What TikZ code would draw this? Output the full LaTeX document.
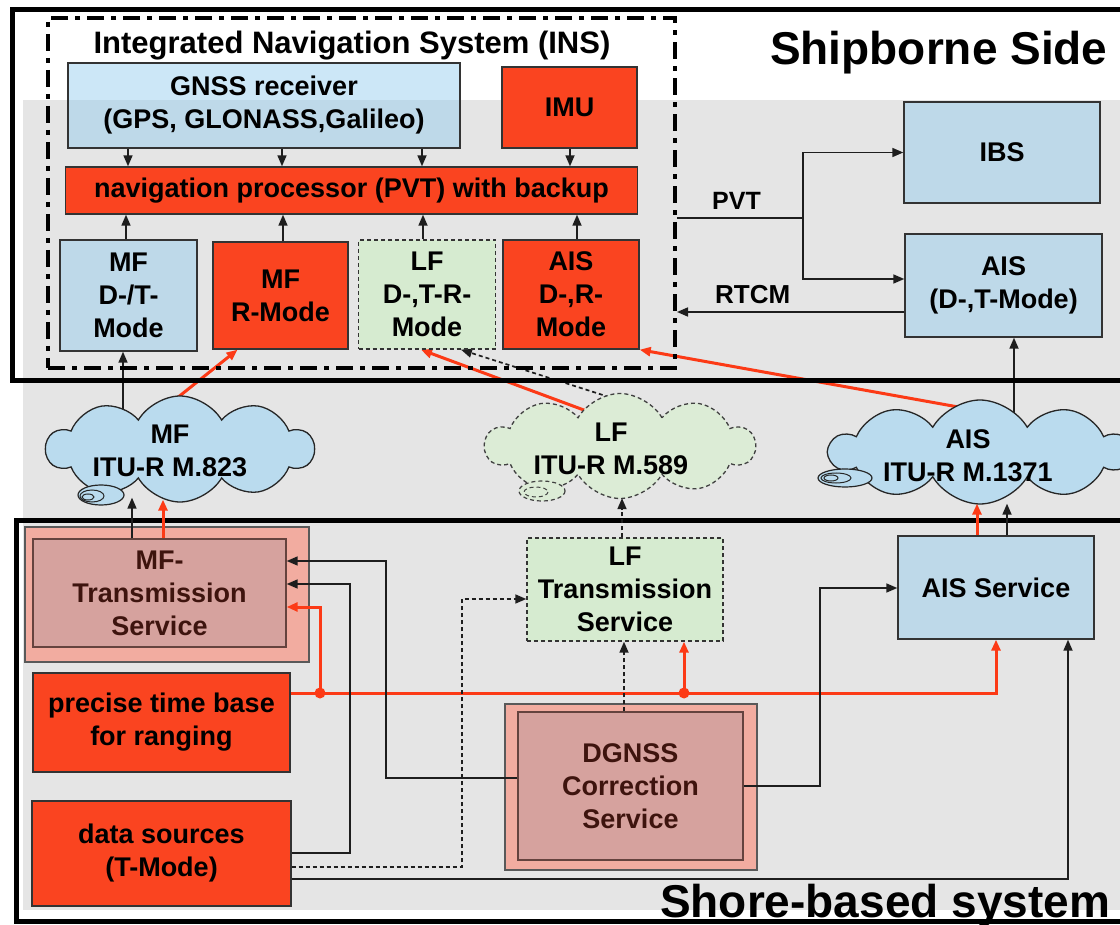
\documentclass[tikz,border=0pt]{standalone}
\usepackage{fontspec}
\setmainfont{Liberation Sans}
\usetikzlibrary{arrows.meta,shapes.symbols,calc}
\pgfdeclarelayer{back}
\pgfdeclarelayer{links}
\pgfsetlayers{back,links,main}
\definecolor{bandgray}{RGB}{229,229,229}
\definecolor{boxblue}{RGB}{143,203,239}
\definecolor{boxgreen}{RGB}{205,240,195}
\definecolor{cloudblue}{RGB}{186,219,238}
\definecolor{cloudgreen}{RGB}{220,236,214}
\definecolor{boxred}{RGB}{250,68,32}
\definecolor{pinkout}{RGB}{242,172,160}
\definecolor{pinkin}{RGB}{214,162,158}
\definecolor{darkbrown}{RGB}{62,20,14}
\definecolor{linegray}{RGB}{30,30,30}
\definecolor{redline}{RGB}{252,58,22}
\begin{document}
\begin{tikzpicture}[x=1pt,y=-1pt,
  lbl/.style={font=\bfseries\fontsize{27}{33}\selectfont, align=center},
  sz/.style 2 args={minimum width=#1pt, minimum height=#2pt},
  basebox/.style={lbl, draw=black!80, line width=1.4pt, inner sep=0pt, anchor=center},
  bluebox/.style={basebox, fill=boxblue, fill opacity=0.45, text opacity=1},
  redbox/.style={basebox, fill=boxred},
  greenbox/.style={basebox, fill=boxgreen, fill opacity=0.6, text opacity=1, dash pattern=on 4pt off 3pt},
  pinkouter/.style={draw=black!65, line width=1.4pt, fill=pinkout, inner sep=0pt},
  pinkinner/.style={basebox, draw=darkbrown!80, fill=pinkin, text=darkbrown},
  cloudsty/.style={cloud, cloud puffs=10, cloud puff arc=120, cloud ignores aspect, draw=black!85, line width=1.3pt, inner sep=0pt},
  conn/.style={draw=linegray, line width=1.7pt},
  rconn/.style={draw=redline, line width=3pt},
  tip/.style={-{Triangle[length=11pt,width=9pt]}},
  dsh/.style={dash pattern=on 4pt off 3pt},
  bigtxt/.style={font=\bfseries\fontsize{46}{50}\selectfont, inner sep=0pt, anchor=base west},
  thickframe/.style={draw=black, line width=5pt}
]
\useasboundingbox (0,0) rectangle (1120,925);
\begin{pgfonlayer}{back}
  \fill[white] (0,0) rectangle (1120,925);
  \fill[bandgray] (23,100) rectangle (1120,910);
\end{pgfonlayer}

% frames
\draw[thickframe] (1135,10) -- (12,10) -- (12,381) -- (1135,381);
\draw[thickframe] (1135,520) -- (16,520) -- (16,921) -- (1135,921);

% INS box
\node[draw=black, line width=4pt, dash pattern=on 17pt off 7pt on 5pt off 7pt, sz={627}{350}, inner sep=0pt] (ins) at (361.5,193) {};
\node[font=\bfseries\fontsize{31}{36}\selectfont, anchor=base, inner sep=0pt] (institle) at (352,54) {Integrated Navigation System (INS)};
\node[bigtxt] (shiptxt) at (770,65) {Shipborne Side};

% top nodes
\node[bluebox, sz={392}{85}] (gnss) at (264,105.5) {GNSS receiver\\(GPS, GLONASS,Galileo)};
\node[redbox, sz={135}{81}] (imu) at (569.5,107.5) {IMU};
\node[redbox, sz={572}{47}] (nav) at (351.5,190.5) {navigation processor (PVT) with backup};
\node[bluebox, sz={137}{111}] (mfdt) at (128.5,295.5) {MF\\D-/T-\\Mode};
\node[redbox, sz={135}{107}] (mfr) at (280.5,295.5) {MF\\R-Mode};
\node[greenbox, sz={137}{109}] (lfb) at (427,294.5) {LF\\D-,T-R-\\Mode};
\node[redbox, sz={136}{109}] (aisr) at (571,294.5) {AIS\\D-,R-\\Mode};
\node[bluebox, sz={196}{101}] (ibs) at (1002,152.5) {IBS};
\node[bluebox, sz={197}{103}] (aisship) at (1003.5,285.5) {AIS\\(D-,T-Mode)};

% clouds
\node[cloudsty, fill=cloudblue, sz={267}{106}] (mfcloud) at (180,449) {};
\draw[black!85, line width=1.2pt, fill=cloudblue] (101,495) ellipse [x radius=23, y radius=10];
\draw[black!85, line width=1pt] (92,496) ellipse [x radius=12, y radius=6];
\draw[black!85, line width=1pt] (88,497) ellipse [x radius=6, y radius=3];
\node[lbl, inner sep=0pt] (mftxt) at (170,451) {MF\\ITU-R M.823};

\node[cloudsty, fill=cloudgreen, draw=black!75, dsh, sz={269}{105}] (lfcloud) at (620,446) {};
\draw[black!75, line width=1.2pt, dsh, fill=cloudgreen] (542,491) ellipse [x radius=23, y radius=10];
\draw[black!75, line width=1pt, dsh] (536,492) ellipse [x radius=12, y radius=5];
\node[lbl, inner sep=0pt] (lftxt) at (611,449) {LF\\ITU-R M.589};

\node[cloudsty, fill=cloudblue, sz={300}{104}] (aiscloud) at (980,452) {};
\draw[black!85, line width=1.2pt, fill=cloudblue] (845,478) ellipse [x radius=27, y radius=9];
\draw[black!85, line width=1pt] (836,478) ellipse [x radius=15, y radius=5];
\draw[black!85, line width=1pt] (831,478) ellipse [x radius=7, y radius=3];
\node[lbl, inner sep=0pt] (aistxt) at (968,456) {AIS\\ITU-R M.1371};

% bottom nodes
\node[pinkouter, sz={284}{135}] (mfout) at (167,594.5) {};
\node[pinkinner, sz={253}{108}] (mfin) at (159.5,593) {MF-\\Transmission\\Service};
\node[greenbox, sz={196}{103}] (lftrans) at (625,589.5) {LF\\Transmission\\Service};
\node[bluebox, sz={196}{103}] (aisserv) at (996,587.5) {AIS Service};
\node[redbox, sz={257}{99}] (ptb) at (161.5,722.5) {precise time base\\for ranging};
\node[redbox, sz={259}{105}] (data) at (161.5,853.5) {data sources\\(T-Mode)};
\node[pinkouter, sz={252}{166}] (dgout) at (631,787) {};
\node[pinkinner, sz={225}{148}] (dgin) at (630.5,786) {DGNSS\\Correction\\Service};
\node[bigtxt] (shoretxt) at (660,917) {Shore-based system};

% INS internal connectors
\foreach \xx in {128,282,422} \draw[conn,tip] (\xx,0 |- gnss.south) -- (\xx,0 |- nav.north);
\draw[conn,tip] (570,0 |- imu.south) -- (570,0 |- nav.north);
\foreach \xx/\nm in {126/mfdt,283/mfr,423/lfb,577/aisr} \draw[conn,tip] (\xx,0 |- \nm.north) -- (\xx,0 |- nav.south);

% PVT / RTCM
\coordinate (pvt) at (803,218);
\coordinate (pvtais) at (aisship.west |- 0,279);
\draw[conn] (ins.east |- pvt) -- (pvt);
\draw[conn,tip] (pvt) |- (ibs.west);
\draw[conn,tip] (pvt) |- (pvtais);
\node[font=\bfseries\fontsize{25}{30}\selectfont, anchor=base west, inner sep=0pt] (pvtlbl) at (712,210) {PVT};
\coordinate (rtcm) at (aisship.west |- 0,312);
\draw[conn,tip] (rtcm) -- (ins.east |- rtcm);
\node[font=\bfseries\fontsize{26}{30}\selectfont, anchor=base west, inner sep=0pt] (rtcmlbl) at (715,304) {RTCM};

% cloud -> ship connectors
\begin{pgfonlayer}{links}
\draw[conn,tip] (123,0 |- mfcloud.center) -- (123,0 |- mfdt.south);
\draw[rconn,tip] ($(mfcloud.center)+(-23,-35)$) -- ($(mfr.south)+(-43,0)$);
\draw[rconn,tip] ($(lfcloud.center)+(-20,-30)$) -- ($(lfb.south)+(-6,0)$);
\draw[conn,dsh,tip] ($(lfcloud.center)+(36,-34)$) -- ($(lfb.south)+(34,0)$);
\draw[rconn,tip] ($(aiscloud.center)+(-5,-42)$) -- (aisr.south east);
\draw[conn,tip] (1014,0 |- aiscloud.center) -- (1014,0 |- aisship.south);
\end{pgfonlayer}

% shore -> clouds
\draw[conn,tip] (132,0 |- mfin.north) -- ($(mfcloud.south -| 132,0)+(0,-5)$);
\draw[rconn,tip] (163,0 |- mfin.north) -- ($(mfcloud.south -| 163,0)+(0,-3)$);
\draw[conn,dsh,tip] (622,0 |- lftrans.north) -- ($(lfcloud.south -| 622,0)+(0,-1)$);
\draw[rconn,tip] (977,0 |- aisserv.north) -- ($(aiscloud.south -| 977,0)+(0,-1)$);
\draw[conn,tip] (1007,0 |- aisserv.north) -- ($(aiscloud.south -| 1007,0)+(0,-1)$);

% shore connectors
\coordinate (j1) at (320,693);
\coordinate (j2) at (684,693);
\draw[rconn,tip] (ptb.east |- j1) -| (aisserv.south);
\draw[rconn,tip] (j1) |- (mfin.east |- 0,607);
\draw[rconn,tip] (j2) -- (j2 |- lftrans.south);
\fill[redline] (j1) circle[radius=5.5];
\fill[redline] (j2) circle[radius=5.5];
\draw[conn,tip] (dgin.west |- 0,778) -| (386,561) -- (mfin.east |- 0,561);
\draw[conn,tip] (data.east |- 0,853) -| (350,584) -- (mfin.east |- 0,584);
\draw[conn,dsh,tip] (data.east |- 0,867) -| (462,599) -- (lftrans.west |- 0,599);
\draw[conn,tip] (data.east |- 0,879) -| (1068,0 |- aisserv.south);
\draw[conn,tip] (dgin.east |- 0,786) -| (820,588) -- (aisserv.west |- 0,588);
\draw[conn,dsh,tip] (624,0 |- dgin.north) -- (624,0 |- lftrans.south);
\end{tikzpicture}
\end{document}
